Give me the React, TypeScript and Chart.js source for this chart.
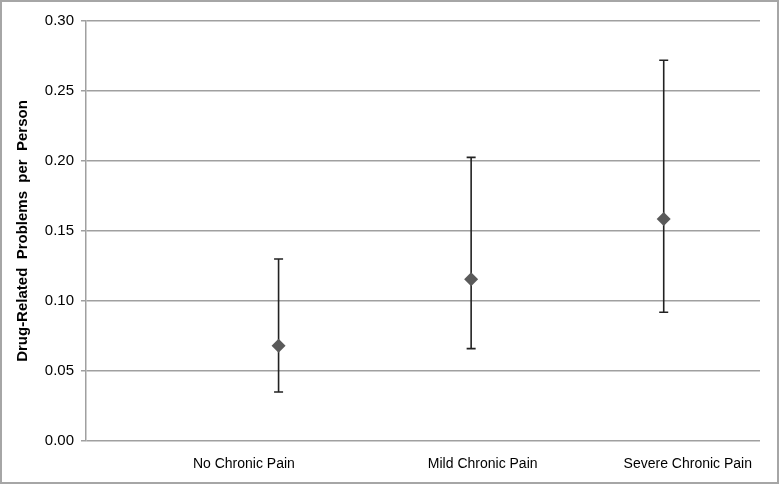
import React, { useEffect, useRef } from "react";
import { Chart, registerables } from "chart.js";

Chart.register(...registerables);

const categories = ["No Chronic Pain", "Mild Chronic Pain", "Severe Chronic Pain"];
const means = [0.068, 0.1155, 0.1585];
const lowerCI = [0.035, 0.066, 0.092];
const upperCI = [0.13, 0.2026, 0.272];
const yTickValues = [0, 0.05, 0.1, 0.15, 0.2, 0.25, 0.3];

// x positions (in axis units) where the category labels are centred
const labelPositions = [0.82, 2.06, 3.125];

const W = 782;
const H = 485;

const errorBarPlugin = {
  id: "errorBars",
  beforeDatasetsDraw(chart: any) {
    const { ctx, scales } = chart;
    const xs = scales.x;
    const ys = scales.y;
    ctx.save();
    ctx.strokeStyle = "#222222";
    ctx.lineWidth = 1.6;
    categories.forEach((_, i) => {
      const px = xs.getPixelForValue(i + 1);
      const pLo = ys.getPixelForValue(lowerCI[i]);
      const pHi = ys.getPixelForValue(upperCI[i]);
      ctx.beginPath();
      ctx.moveTo(px, pLo);
      ctx.lineTo(px, pHi);
      ctx.moveTo(px - 4.5, pLo);
      ctx.lineTo(px + 4.5, pLo);
      ctx.moveTo(px - 4.5, pHi);
      ctx.lineTo(px + 4.5, pHi);
      ctx.stroke();
    });
    ctx.restore();
  },
};

const framePlugin = {
  id: "frame",
  beforeDraw(chart: any) {
    const { ctx } = chart;
    ctx.save();
    ctx.fillStyle = "#ffffff";
    ctx.fillRect(0, 0, W, H);
    ctx.strokeStyle = "#a6a6a6";
    ctx.lineWidth = 2;
    ctx.strokeRect(1, 1, 777, 482);
    ctx.restore();
  },
};

export default function App() {
  const ref = useRef<HTMLCanvasElement | null>(null);

  useEffect(() => {
    document.body.style.margin = "0";
    if (!ref.current) return;
    const chart = new Chart(ref.current, {
      type: "scatter",
      data: {
        datasets: [
          {
            data: categories.map((_, i) => ({ x: i + 1, y: means[i] })),
            pointStyle: "rectRot",
            pointRadius: 7,
            pointHoverRadius: 7,
            backgroundColor: "#5a5a5a",
            borderColor: "#5a5a5a",
            borderWidth: 0,
          },
        ],
      },
      options: {
        responsive: false,
        animation: false,
        events: [],
        layout: { padding: { top: 21, right: 22, left: 0, bottom: 0 } },
        plugins: {
          legend: { display: false },
          tooltip: { enabled: false },
        },
        scales: {
          x: {
            type: "linear",
            min: 0,
            max: 3.5,
            grid: { display: false },
            border: { display: false },
            afterBuildTicks: (scale: any) => {
              scale.ticks = labelPositions.map((v) => ({ value: v }));
            },
            afterFit: (scale: any) => {
              scale.height = H - 441;
            },
            ticks: {
              autoSkip: false,
              maxRotation: 0,
              padding: 7,
              color: "#000000",
              font: { family: "Arial, 'Liberation Sans', sans-serif", size: 14 },
              callback: (_v: any, i: number) => categories[i],
            },
          },
          y: {
            min: 0,
            max: 0.3,
            afterBuildTicks: (scale: any) => {
              scale.ticks = yTickValues.map((v) => ({ value: v }));
            },
            afterFit: (scale: any) => {
              scale.width = 86;
            },
            grid: {
              color: "#a0a0a0",
              lineWidth: 1.5,
              tickLength: 5,
            },
            border: { display: true, color: "#a0a0a0", width: 1.5 },
            ticks: {
              padding: 7,
              color: "#000000",
              font: { family: "Arial, 'Liberation Sans', sans-serif", size: 15 },
              callback: (v: any) => Number(v).toFixed(2),
            },
            title: {
              display: true,
              text: "Drug-Related  Problems  per  Person",
              color: "#000000",
              font: { family: "Arial, 'Liberation Sans', sans-serif", size: 15, weight: "bold" },
              padding: { top: 14, bottom: 0 },
            },
          },
        },
      },
      plugins: [framePlugin, errorBarPlugin],
    });
    return () => chart.destroy();
  }, []);

  return (
    <div style={{ width: W, height: H }}>
      <canvas ref={ref} width={W} height={H} style={{ display: "block" }} />
    </div>
  );
}
